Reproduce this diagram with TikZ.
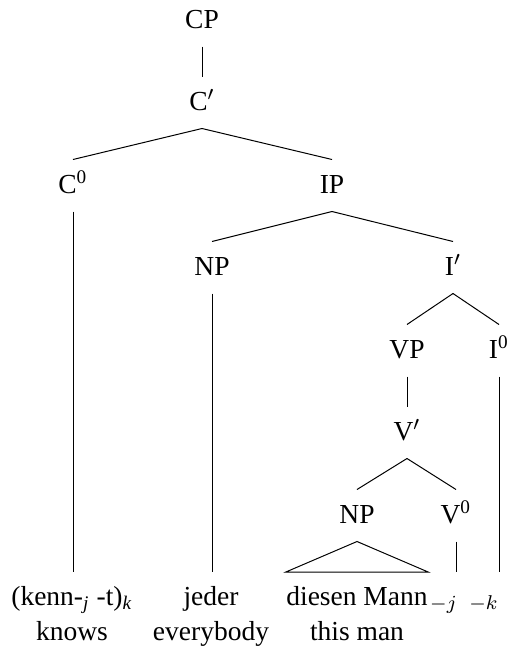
\documentclass[tikz,border=0pt]{standalone}
\usepackage{fontspec}
\setmainfont{Liberation Serif}
\usepackage{tikz}

\begin{document}
\begin{tikzpicture}[x = 0.4pt, y = -0.4pt, font = \fontsize{11}{14}\selectfont,
  cat/.style = {inner xsep = 0pt, inner ysep = 5.6pt, text height = 7.6pt, text depth = 1.6pt},
  leaf/.style = {anchor = north, align = center, inner xsep = 0pt, inner ysep = 5.6pt}]
\useasboundingbox (0, 0) rectangle (510, 647);
\node[cat] (cp) at (202, 20.5) {CP};
\node[cat] (cbar) at (202, 102.5) {C$'$};
\node[cat] (c0) at (73, 185.5) {C\textsuperscript{0}};
\node[cat] (ip) at (332, 185.5) {IP};
\node[cat] (np1) at (212, 267.5) {NP};
\node[cat] (ibar) at (453, 267.5) {I$'$};
\node[cat] (vp) at (407, 350.5) {VP};
\node[cat] (i0) at (499, 350.5) {I\textsuperscript{0}};
\node[cat] (vbar) at (407, 432.5) {V$'$};
\node[cat] (np2) at (357, 515.5) {NP};
\node[cat] (v0) at (456, 515.5) {V\textsuperscript{0}};
\node[leaf] (kenn) at (72, 572) {(kenn-\textsubscript{\textit{j}} -t)\textsubscript{\textit{k}}\\knows};
\node[leaf] (jeder) at (211, 572) {jeder\\everybody};
\node[leaf] (dm) at (357, 572) {diesen Mann\\this man};
\node[leaf, text height = 7.6pt] (tj) at (444, 572) {$_{-j}$};
\node[leaf, text height = 7.6pt] (tk) at (484, 572) {$_{-k}$};
\draw (cp.south) -- (cbar.north);
\draw (cbar.south) -- (c0.north);
\draw (cbar.south) -- (ip.north);
\draw (ip.south) -- (np1.north);
\draw (ip.south) -- (ibar.north);
\draw (ibar.south) -- (vp.north);
\draw (ibar.south) -- (i0.north);
\draw (vp.south) -- (vbar.north);
\draw (vbar.south) -- (np2.north);
\draw (vbar.south) -- (v0.north);
\draw (c0.south) -- (c0.south |- kenn.north);
\draw (np1.south) -- (np1.south |- jeder.north);
\draw (np2.south) -- (dm.north west) -- (dm.north east) -- cycle;
\draw (v0.south) -- (v0.south |- tj.north);
\draw (i0.south) -- (i0.south |- tk.north);
\end{tikzpicture}
\end{document}
